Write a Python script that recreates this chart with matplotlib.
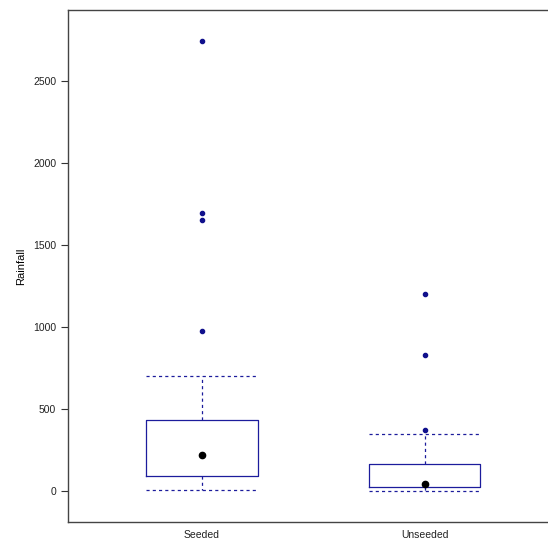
import matplotlib
matplotlib.use("Agg")
import matplotlib.pyplot as plt

plt.rcParams['font.family'] = ['Liberation Sans', 'DejaVu Sans']

# box statistics
groups = ["Seeded", "Unseeded"]
q1 = [92.4, 24.4]
med = [221.6, 44.2]
q3 = [430.0, 163.0]
whis_lo = [4.1, 0.01]
whis_hi = [703.4, 345.5]
outliers = [[978.0, 1656.0, 1697.8, 2745.6], [372.4, 830.1, 1202.6]]

blue = "#1c1c9c"

stats = []
for i in range(len(groups)):
    stats.append(dict(label=groups[i], q1=q1[i], med=med[i], q3=q3[i],
                      whislo=whis_lo[i], whishi=whis_hi[i], fliers=outliers[i]))

fig = plt.figure(figsize=(5.48, 5.39), dpi=100)
ax = fig.add_axes([68 / 548, 17 / 539, 490.5 / 548, 512 / 539])

ax.bxp(stats, positions=[1, 2], widths=0.5, showcaps=True,
       boxprops=dict(color=blue, linewidth=0.9),
       whiskerprops=dict(color=blue, linewidth=0.9, linestyle=(0, (2.5, 2.5))),
       capprops=dict(color=blue, linewidth=0.9, linestyle=(0, (2.5, 2.5))),
       capwidths=0.5,
       medianprops=dict(linestyle="none"),
       flierprops=dict(marker="o", markersize=3, markerfacecolor="#10108c",
                       markeredgecolor="#10108c", linestyle="none"))
ax.plot([1, 2], med, "o", color="black", markersize=4.5, linestyle="none")

ax.set_xlim(0.4, 2.6)
ax.set_ylim(-190, 2935)
ax.set_yticks([0, 500, 1000, 1500, 2000, 2500])
ax.set_xticks([1, 2])
ax.set_xticklabels(groups)
ax.tick_params(axis="x", length=0, labelsize=7.5, pad=6, labelcolor="#222222")
ax.tick_params(axis="y", length=5, labelsize=7.5, color="#333333", labelcolor="#222222")
ax.set_ylabel("Rainfall", fontsize=8, labelpad=5)
ax.spines["right"].set_visible(False)
for s in ax.spines.values():
    s.set_color("#444444")
    s.set_linewidth(1.0)

fig.savefig("out.png", dpi=100)
